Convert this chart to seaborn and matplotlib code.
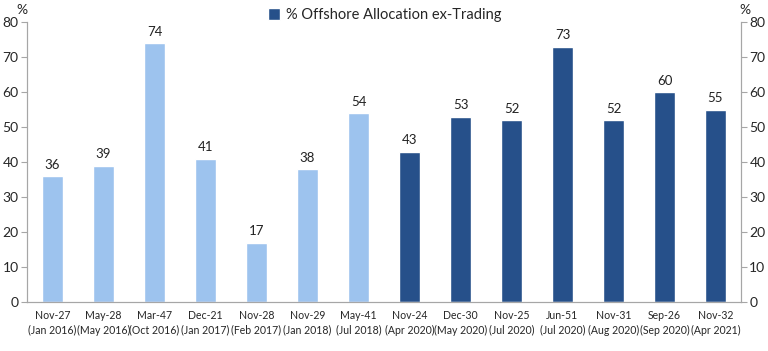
import seaborn as sns
import matplotlib.pyplot as plt
import pandas as pd
import numpy as np
from matplotlib.patches import Patch
from matplotlib.ticker import FixedLocator

tops = ['Nov-27', 'May-28', 'Mar-47', 'Dec-21', 'Nov-28', 'Nov-29', 'May-41',
        'Nov-24', 'Dec-30', 'Nov-25', 'Jun-51', 'Nov-31', 'Sep-26', 'Nov-32']
dates = ['(Jan 2016)', '(May 2016)', '(Oct 2016)', '(Jan 2017)', '(Feb 2017)', '(Jan 2018)', '(Jul 2018)',
         '(Apr 2020)', '(May 2020)', '(Jul 2020)', '(Jul 2020)', '(Aug 2020)', '(Sep 2020)', '(Apr 2021)']
values = [36, 39, 74, 41, 17, 38, 54, 43, 53, 52, 73, 52, 60, 55]
groups = ['early'] * 7 + ['recent'] * 7

light = '#9dc3ee'
dark = '#26508a'

sns.set_style('white')
plt.rcParams['font.family'] = ['Lato', 'DejaVu Sans']

labels = [f'{a}\n{b}' for a, b in zip(tops, dates)]
df = pd.DataFrame({'label': labels, 'value': values, 'group': groups})

fig = plt.figure(figsize=(7.68, 3.51), dpi=100)
ax = fig.add_axes([27 / 768, 1 - 302 / 351, (741 - 27) / 768, (302 - 22) / 351])
sns.barplot(data=df, x='label', y='value', hue='group', palette={'early': light, 'recent': dark},
            dodge=False, width=0.41, saturation=1, legend=False, ax=ax)

for i, v in enumerate(values):
    ax.text(i, v + 1.5, f'{v}', ha='center', va='bottom', fontsize=9.5, color='#222222')

ax.set_ylim(0, 80)
ax.set_xlim(-0.5, len(values) - 0.5)
ax.set_yticks(range(0, 81, 10))
ax.set_xlabel('')
ax.set_ylabel('')
ax.tick_params(axis='y', which='major', direction='out', length=4, color='#a6a6a6', labelsize=10, pad=2)
ax.tick_params(axis='x', which='major', length=0, labelsize=7.6, pad=6)
ax.xaxis.set_minor_locator(FixedLocator(np.arange(-0.5, len(values), 1)))
ax.tick_params(axis='x', which='minor', direction='out', length=4, color='#a6a6a6')
for lab in ax.get_xticklabels():
    lab.set_linespacing(1.35)

ax2 = ax.twinx()
ax2.set_ylim(0, 80)
ax2.set_yticks(range(0, 81, 10))
ax2.tick_params(axis='y', direction='out', length=4, color='#a6a6a6', labelsize=10, pad=2)

for a in (ax, ax2):
    a.spines['top'].set_visible(False)
    for s in ('left', 'right', 'bottom'):
        a.spines[s].set_color('#a6a6a6')
        a.spines[s].set_linewidth(0.8)

fig.text(22 / 768, 1 - 10 / 351, '%', ha='center', va='center', fontsize=10)
fig.text(745 / 768, 1 - 10 / 351, '%', ha='center', va='center', fontsize=10)

fig.legend(handles=[Patch(facecolor=dark, label='% Offshore Allocation ex-Trading')],
           loc='center', bbox_to_anchor=(385 / 768, 1 - 15 / 351), frameon=False,
           fontsize=10.5, handlelength=0.8, handleheight=0.8, handletextpad=0.4)

fig.savefig('out.png', dpi=100)
